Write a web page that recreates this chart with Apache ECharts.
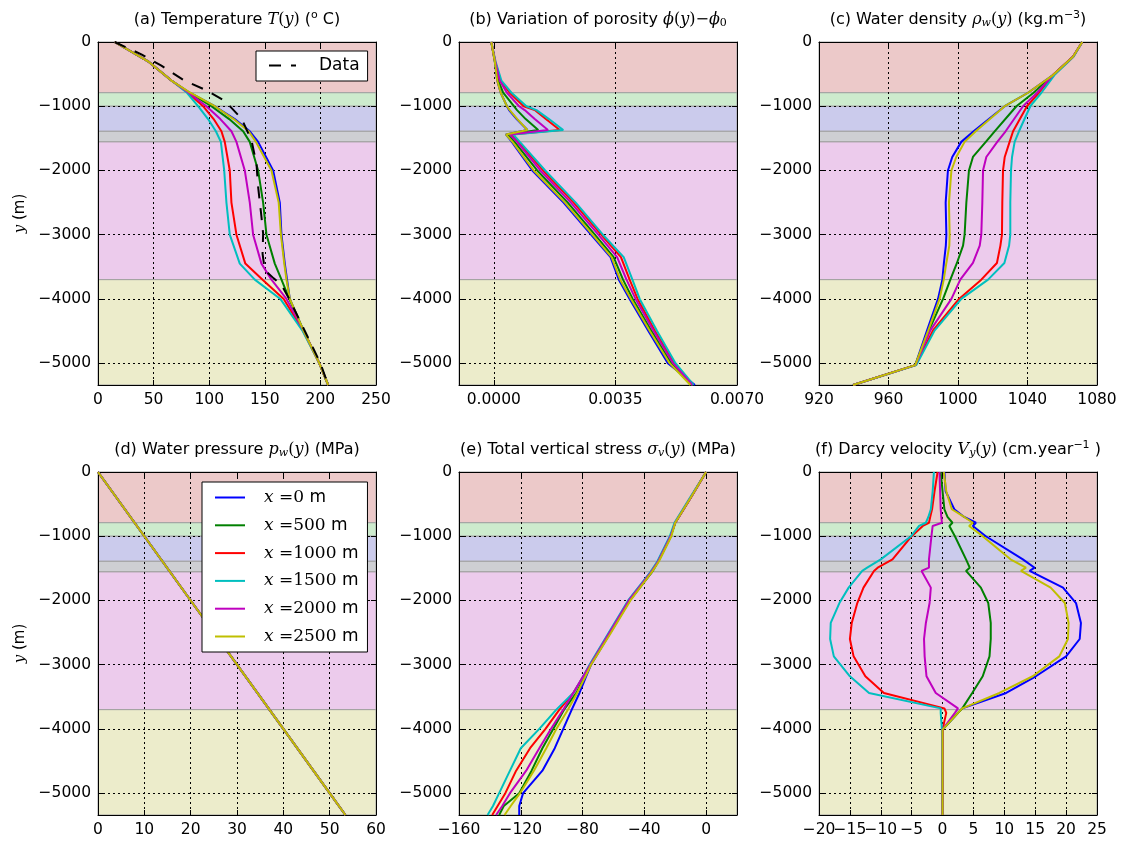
<!DOCTYPE html>
<html>
<head>
<meta charset="utf-8">
<script src="https://cdn.jsdelivr.net/npm/echarts@6/dist/echarts.min.js"></script>
<style>
  html, body { margin: 0; padding: 0; background: #fff; }
  #chart { width: 1125px; height: 845px; }
</style>
</head>
<body>
<div id="chart"></div>
<script>
// ---- data ----
const curveNames = ['x=0 m', 'x=500 m', 'x=1000 m', 'x=1500 m', 'x=2000 m', 'x=2500 m'];
const layerTop = [0, -790, -1000, -1390, -1555, -3700];
const layerBottom = [-790, -1000, -1390, -1555, -3700, -5340];
const depthTicks = [0, -1000, -2000, -3000, -4000, -5000];

// (a) temperature, rows: x=0, 500, 1000, 1500, 2000, 2500
const tempDepth = [0, -300, -600, -790, -1000, -1200, -1390, -1555, -2000, -2500, -3000, -3450, -3700, -4000, -4500, -5000, -5340];
const tempVals = [
  [15, 45, 66, 82.5, 105, 123, 136.5, 144, 157.5, 163.5, 165, 168, 170, 172.5, 185, 199, 207],
  [15, 45, 66, 82, 102, 118, 130.5, 136.5, 144, 148.5, 151.5, 159, 165, 172, 185, 199, 207],
  [15, 45, 66, 81, 94.5, 104, 111, 114, 118.5, 120, 124.5, 132.5, 148, 167, 184.5, 199, 207],
  [15, 45, 66, 80, 90, 99, 106, 110.5, 113.5, 115.5, 118.5, 127.5, 141, 164, 184, 199, 207],
  [15, 45, 66, 81.5, 97.5, 110, 120, 124.5, 132, 136.5, 139.5, 147, 156, 169.5, 185, 199, 207],
  [15, 45, 66, 83, 105, 122, 135.5, 142, 156, 162.5, 164.5, 167.5, 169.5, 172.5, 185, 199, 207]
];
const dataDepth = [0, -192, -369, -603, -748, -915, -1190, -1528, -1892, -2256, -2723, -2983, -3300, -3550, -3680, -3780, -4000, -4500, -5000, -5340];
const dataTemp = [15, 39, 57, 78, 97, 114, 129, 138, 142.5, 144, 147, 148.5, 148, 150, 158, 165, 172, 186, 200, 207];

// (b) porosity variation
const poroDepth = [0, -300, -600, -790, -1000, -1060, -1200, -1370, -1440, -1555, -2000, -2500, -3000, -3350, -3700, -4000, -4500, -5000, -5340];
const poroVals = [
  [-0.00007, 0.00003, 0.0001, 0.0002, 0.00038, 0.00044, 0.00066, 0.00097, 0.00035, 0.00052, 0.00111, 0.00201, 0.0028, 0.00336, 0.0036, 0.00391, 0.00445, 0.00501, 0.00579],
  [-0.00007, 0.00003, 0.00013, 0.00027, 0.00058, 0.00067, 0.00092, 0.00128, 0.00041, 0.0006, 0.00125, 0.00213, 0.00291, 0.00345, 0.00372, 0.004, 0.00454, 0.00511, 0.0057],
  [-0.00007, 0.00004, 0.00019, 0.00046, 0.00086, 0.00118, 0.0015, 0.0019, 0.00051, 0.00071, 0.00142, 0.0023, 0.00309, 0.00366, 0.00391, 0.00414, 0.00464, 0.0052, 0.00573],
  [-0.00007, 0.00005, 0.00022, 0.00051, 0.00094, 0.00123, 0.00159, 0.002, 0.00056, 0.00075, 0.00148, 0.00236, 0.00314, 0.00374, 0.00399, 0.0042, 0.0047, 0.00523, 0.00575],
  [-0.00007, 0.00004, 0.00017, 0.00038, 0.00073, 0.00089, 0.00118, 0.00156, 0.00046, 0.00067, 0.00134, 0.00222, 0.00301, 0.00355, 0.00382, 0.00408, 0.0046, 0.00516, 0.00571],
  [-0.00007, 0.00003, 0.0001, 0.0002, 0.00038, 0.00046, 0.00068, 0.00097, 0.00035, 0.00054, 0.00115, 0.00205, 0.00284, 0.00339, 0.00364, 0.00395, 0.00449, 0.00506, 0.00566]
];

// (c) water density
const densDepth = [0, -230, -515, -790, -1000, -1390, -1555, -1790, -2000, -2500, -3000, -3170, -3440, -3700, -4000, -4490, -5030, -5340];
const densVals = [
  [1071.5, 1066.2, 1054.7, 1040.3, 1026.9, 1009, 1001.9, 996.7, 994.2, 992.9, 993.3, 993, 991.9, 991, 988.5, 982.2, 975.4, 939.6],
  [1071.5, 1066.2, 1054.7, 1043.5, 1033.6, 1021.1, 1016, 1008.6, 1006.3, 1004.8, 1003.8, 1002.9, 999.4, 995.6, 991.4, 983.3, 975.4, 939.6],
  [1071.5, 1066.2, 1054.7, 1046.6, 1039.7, 1031.7, 1029.7, 1026.9, 1025.9, 1025.5, 1025.3, 1024.4, 1022.4, 1013.4, 1000.6, 985.6, 975.6, 939.6],
  [1071.5, 1066.5, 1055.5, 1048, 1041.6, 1035.1, 1032.6, 1031.1, 1030.5, 1030.1, 1030.1, 1029.4, 1026.7, 1017.3, 1001.9, 986.6, 976, 939.6],
  [1071.5, 1066.2, 1054.7, 1045.5, 1037.4, 1027.4, 1022.6, 1016.3, 1014.4, 1014, 1013.4, 1012.5, 1008.6, 1001.3, 996.2, 984.1, 975.5, 939.6],
  [1071.5, 1066.2, 1054.7, 1040.3, 1026.9, 1010.2, 1003.8, 999, 996.2, 994.8, 995.2, 995, 993.3, 991.8, 989.4, 982.9, 975.4, 939.6]
];

// (d) water pressure (all six curves coincide)
const presDepth = [0, -1000, -2000, -3000, -4000, -5000, -5340];
const presVals = [0, 10, 20, 30, 40, 50, 53.4];

// (e) total vertical stress
const stressDepth = [0, -400, -790, -1000, -1390, -1555, -2000, -2500, -3000, -3200, -3440, -3700, -4000, -4300, -4650, -5000, -5200, -5340];
const stressVals = [
  [0, -10, -20, -23, -31, -35, -49.5, -62, -74.5, -78, -82, -87, -92.5, -98, -106, -118.5, -121, -121],
  [0, -10, -20, -23, -31, -35, -49.5, -62, -75, -79, -84, -92, -99, -106, -113, -121, -131, -134],
  [0, -10, -20, -23, -31, -35.5, -50, -62.5, -75, -80, -86, -95, -104, -114, -123, -130, -135, -138.5],
  [0, -10.5, -20.5, -23.5, -31.5, -36, -50.5, -63, -75.5, -80, -86, -97, -108, -120, -127, -134, -138, -141.5],
  [0, -10, -20, -23, -31, -35.5, -50, -62.5, -75, -80, -86, -92.5, -100.5, -108, -116.5, -127, -132, -136],
  [0, -10, -20, -22.5, -30.5, -35, -49, -61.5, -74.5, -78.5, -83.5, -89.5, -97, -103.5, -111.5, -120.5, -126.5, -130.5]
];

// (f) Darcy velocity
const darcyDepth = [0, -300, -580, -700, -790, -840, -1000, -1360, -1490, -1540, -1800, -2040, -2350, -2600, -2870, -3180, -3440, -3680, -3750, -4010, -5340];
const darcyVals = [
  [0.3, 0.5, 1.9, 3.5, 5.4, 4.9, 7, 13, 14.9, 14.1, 19.5, 21.6, 22.4, 22.2, 20, 15.1, 10.3, 3.2, 2.5, 0, 0],
  [-0.3, 0, 0.3, 0.8, 1.6, 1.1, 2, 3.8, 4.4, 3.8, 6.2, 7.4, 7.8, 7.8, 7.6, 6.5, 4.8, 3.2, 2.5, 0, 0],
  [-0.8, -1.3, -1.7, -2, -2.2, -3.2, -5, -8.1, -10.5, -11.1, -12.8, -13.8, -14.7, -15, -14.4, -12.5, -9.5, 0.3, 0.6, 0, 0],
  [-1.4, -1.6, -1.9, -2.3, -2.7, -3.8, -5.1, -10, -12.2, -13, -15.2, -16.7, -18.1, -18.2, -17.6, -15, -11.9, -0.3, -0.3, -0.1, 0],
  [-0.5, -0.4, -0.3, -0.2, -0.1, -1.6, -1.8, -2.2, -2.2, -3.4, -1.9, -2.1, -2.7, -3, -2.9, -2.6, -1.1, 2.5, 2, 0, 0],
  [0.2, 0.6, 1.5, 3.5, 4.9, 4.3, 6.5, 11, 13.5, 12.7, 17.5, 19.8, 20.4, 20.3, 18.9, 14.6, 9.2, 3.2, 2.5, 0, 0]
];

// ---- styling ----
const FONT = 'DejaVu Sans';
const TICK_SIZE = 15.5;
const lineColors = ['#0000ff', '#008000', '#ff0000', '#00bfbf', '#bf00bf', '#bfbf00'];
const bandColors = ['#ecc9c9', '#cdebcd', '#cbcbec', '#cecfd3', '#eccbec', '#ececcb'];
const gridPos = [[98, 42], [459, 42], [819, 42], [98, 472], [459, 472], [819, 472]];
const GW = 278, GH = 343;

const minus = v => String(v).replace('-', '\u2212');

const mathRich = {
  n: { fontFamily: FONT, fontSize: 16, lineHeight: 19, color: '#000' },
  m: { fontFamily: 'DejaVu Serif', fontStyle: 'italic', fontSize: 16, lineHeight: 19, color: '#000' },
  r: { fontFamily: 'DejaVu Serif', fontSize: 16, lineHeight: 19, color: '#000' },
  s: { fontFamily: 'DejaVu Serif', fontStyle: 'italic', fontSize: 11, lineHeight: 10, verticalAlign: 'bottom', color: '#000' },
  sn: { fontFamily: 'DejaVu Serif', fontSize: 11, lineHeight: 10, verticalAlign: 'bottom', color: '#000' },
  u: { fontFamily: FONT, fontSize: 11, lineHeight: 11, verticalAlign: 'top', color: '#000' }
};

const panels = [
  { title: '{n|(a) Temperature }{m|T}{r|(}{m|y}{r|)}{n| (}{u|o}{n| C)}',
    depth: tempDepth, rows: tempVals, xmin: 0, xmax: 250, xticks: [0, 50, 100, 150, 200, 250], fmt: minus },
  { title: '{n|(b) Variation of porosity }{m|ϕ}{r|(}{m|y}{r|)−}{m|ϕ}{sn|0}',
    depth: poroDepth, rows: poroVals, xmin: -0.001, xmax: 0.007, xticks: [0, 0.0035, 0.007], fmt: v => v.toFixed(4) },
  { title: '{n|(c) Water density }{m|ρ}{s|w}{r|(}{m|y}{r|)}{n| (kg.m}{u|−3}{n|)}',
    depth: densDepth, rows: densVals, xmin: 920, xmax: 1080, xticks: [920, 960, 1000, 1040, 1080], fmt: minus },
  { title: '{n|(d) Water pressure }{m|p}{s|w}{r|(}{m|y}{r|)}{n| (MPa)}',
    depth: presDepth, rows: curveNames.map(() => presVals), xmin: 0, xmax: 60, xticks: [0, 10, 20, 30, 40, 50, 60], fmt: minus },
  { title: '{n|(e) Total vertical stress }{m|σ}{s|v}{r|(}{m|y}{r|)}{n| (MPa)}',
    depth: stressDepth, rows: stressVals, xmin: -160, xmax: 20, xticks: [-160, -120, -80, -40, 0], fmt: minus },
  { title: '{n|(f) Darcy velocity }{m|V}{s|y}{r|(}{m|y}{r|)}{n| (cm.year}{u|−1}{n| )}',
    depth: darcyDepth, rows: darcyVals, xmin: -20, xmax: 25, xticks: [-20, -15, -10, -5, 0, 5, 10, 15, 20, 25], fmt: minus, crowded: true }
];

const bandArea = {
  silent: true,
  z: 1,
  itemStyle: { borderColor: '#a0a0a0', borderWidth: 1 },
  data: layerTop.map((t, k) => [
    { yAxis: t, itemStyle: { color: bandColors[k], borderColor: '#a0a0a0', borderWidth: 1 } },
    { yAxis: layerBottom[k] }
  ])
};

const grids = [], xAxes = [], yAxes = [], series = [], titles = [];
const frameLine = { show: true, onZero: false, lineStyle: { color: '#000', width: 1 } };
const inTick = ticks => ({ show: true, inside: true, length: 5, customValues: ticks, lineStyle: { color: '#000', width: 1 } });
const gridDots = { show: true, lineStyle: { color: '#000', width: 1, type: [2, 3] } };

panels.forEach((p, i) => {
  const [left, top] = gridPos[i];
  grids.push({ left: left, top: top, width: GW, height: GH, show: false });

  titles.push({
    text: p.title, left: left + GW / 2, top: top - 32, textAlign: 'center', padding: 0,
    textStyle: { fontFamily: FONT, fontSize: 16, fontWeight: 'normal', color: '#000', lineHeight: 19, rich: mathRich }
  });

  // ECharts drops the label next to the min label when they overlap;
  // in (f) the labels touch, so the min value is listed twice and only the copy is dropped
  const labelValues = p.crowded ? [p.xticks[0]].concat(p.xticks) : p.xticks;

  xAxes.push({
    type: 'value', gridIndex: i, position: 'bottom', min: p.xmin, max: p.xmax, z: 3,
    axisLine: frameLine, axisTick: inTick(p.xticks),
    axisLabel: {
      show: true, customValues: labelValues, formatter: p.fmt, interval: 0,
      showMinLabel: true, showMaxLabel: true, hideOverlap: false,
      color: '#000', fontFamily: FONT, fontSize: TICK_SIZE, margin: 7
    },
    splitLine: gridDots
  });
  xAxes.push({
    type: 'value', gridIndex: i, position: 'top', min: p.xmin, max: p.xmax, z: 3,
    axisLine: frameLine, axisTick: inTick(p.xticks), axisLabel: { show: false }, splitLine: { show: false }
  });

  const leftY = {
    type: 'value', gridIndex: i, position: 'left', min: -5340, max: 0, z: 3,
    axisLine: frameLine, axisTick: inTick(depthTicks),
    axisLabel: { show: true, customValues: depthTicks, formatter: minus, color: '#000', fontFamily: FONT, fontSize: TICK_SIZE, margin: 7 },
    splitLine: gridDots
  };
  if (i % 3 === 0) {
    Object.assign(leftY, {
      name: '{m|y} (m)', nameLocation: 'middle', nameGap: 70, nameRotate: 90,
      nameTextStyle: { fontFamily: FONT, fontSize: 15, color: '#000', rich: { m: { fontFamily: 'DejaVu Serif', fontStyle: 'italic', fontSize: 15, color: '#000' } } }
    });
  }
  yAxes.push(leftY);
  yAxes.push({
    type: 'value', gridIndex: i, position: 'right', min: -5340, max: 0, z: 3,
    axisLine: frameLine, axisTick: inTick(depthTicks), axisLabel: { show: false }, splitLine: { show: false }
  });

  p.rows.forEach((row, k) => {
    const s = {
      name: curveNames[k], type: 'line', xAxisIndex: 2 * i, yAxisIndex: 2 * i,
      data: row.map((v, j) => [v, p.depth[j]]),
      symbol: 'none', z: 10, silent: true,
      lineStyle: { width: 2, color: lineColors[k] },
      itemStyle: { color: lineColors[k] }
    };
    if (k === 0) s.markArea = bandArea;
    series.push(s);
  });
});

// measured temperature profile
series.push({
  name: 'Data', type: 'line', xAxisIndex: 0, yAxisIndex: 0,
  data: dataTemp.map((v, j) => [v, dataDepth[j]]),
  symbol: 'none', z: 11, silent: true,
  lineStyle: { width: 2, color: '#000', type: [12, 10] },
  itemStyle: { color: '#000' }
});

const legendText = { fontFamily: FONT, fontSize: 17, color: '#000' };
// hide the marker that ECharts adds to line legend icons
const noMarker = { opacity: 0, borderWidth: 0 };

const option = {
  animation: false,
  backgroundColor: '#fff',
  textStyle: { fontFamily: FONT },
  title: titles,
  grid: grids,
  xAxis: xAxes,
  yAxis: yAxes,
  legend: [
    {
      data: ['Data'], left: 256, top: 51, orient: 'vertical', z: 20, selectedMode: false,
      backgroundColor: '#fff', borderColor: '#000', borderWidth: 1, borderRadius: 0,
      padding: [6, 8, 7, 12], itemWidth: 27, itemHeight: 14, itemStyle: noMarker,
      formatter: name => '{d|' + name + '}',
      textStyle: Object.assign({}, legendText, {
        rich: { d: Object.assign({}, legendText, { lineHeight: 18, padding: [0, 0, 0, 18] }) }
      })
    },
    {
      data: curveNames, left: 202, top: 482, orient: 'vertical', z: 20, selectedMode: false,
      backgroundColor: '#fff', borderColor: '#000', borderWidth: 1, borderRadius: 0,
      padding: [7, 9, 7, 12], itemWidth: 30, itemHeight: 14, itemGap: 10.8, itemStyle: noMarker,
      formatter: name => '{m|x}{r| =' + name.slice(2, -2) + '}{n| m}',
      textStyle: Object.assign({}, legendText, {
        rich: {
          m: { fontFamily: 'DejaVu Serif', fontStyle: 'italic', fontSize: 17, lineHeight: 18, color: '#000', padding: [0, 0, 0, 14] },
          r: { fontFamily: 'DejaVu Serif', fontSize: 17, lineHeight: 18, color: '#000' },
          n: Object.assign({}, legendText, { lineHeight: 18 })
        }
      })
    }
  ],
  series: series
};

const chart = echarts.init(document.getElementById('chart'));
chart.setOption(option);
</script>
</body>
</html>
